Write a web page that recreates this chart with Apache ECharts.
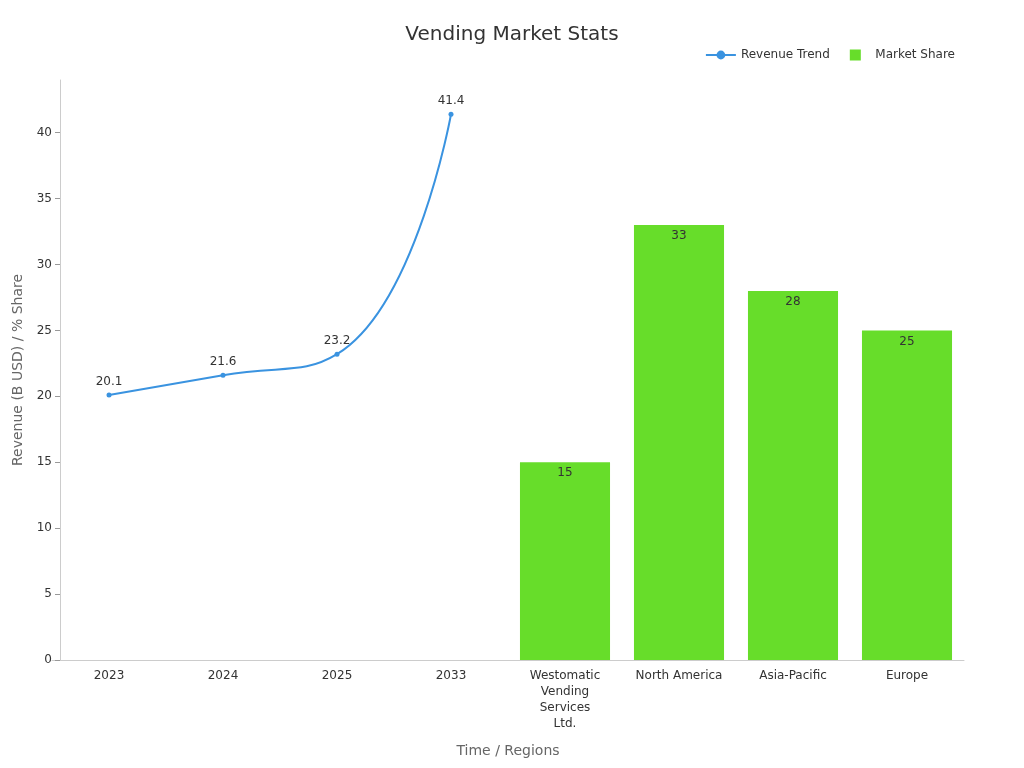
<!DOCTYPE html>
<html><head><meta charset="utf-8">
<script src="https://cdn.jsdelivr.net/npm/echarts@6/dist/echarts.min.js"></script>
<style>html,body{margin:0;padding:0}#c{width:1024px;height:768px}</style>
</head><body><div id="c"></div>
<script>
const categories = ["2023","2024","2025","2033","Westomatic\nVending\nServices\nLtd.","North America","Asia-Pacific","Europe"];
const revenueTrend = [20.1, 21.6, 23.2, 41.4, null, null, null, null];
const marketShare = [null, null, null, null, 15, 33, 28, 25];
const chart = echarts.init(document.getElementById('c'));
chart.setOption({
  textStyle:{fontFamily:"DejaVu Sans"},
  title:{text:"Vending Market Stats",left:"center",top:20,textStyle:{fontSize:20,fontWeight:"normal",color:"#333"}},
  legend:{top:44,right:64,itemGap:20,itemWidth:30,itemHeight:11,symbolKeepAspect:true,textStyle:{fontSize:12,color:"#333"},
    data:[{name:"Revenue Trend"},{name:"Market Share",icon:"path://M0,0L10,0L10,10L0,10Z"}]},
  grid:{left:52,right:60,top:80,bottom:108},
  xAxis:{type:"category",data:categories,name:"Time / Regions",nameLocation:"middle",nameGap:84,
    nameTextStyle:{fontSize:14,color:"#666"},
    axisLine:{lineStyle:{color:"#ccc"}},axisTick:{show:false},
    axisLabel:{color:"#333",fontSize:12,interval:0,lineHeight:16}},
  yAxis:{type:"value",min:0,max:44,interval:5,offset:-8,name:"Revenue (B USD) / % Share",nameLocation:"middle",nameGap:32,
    nameTextStyle:{fontSize:14,color:"#666"},
    axisLine:{show:true,lineStyle:{color:"#ccc"}},axisTick:{show:true,lineStyle:{color:"#999"}},
    splitLine:{show:false},axisLabel:{color:"#333",fontSize:12,showMaxLabel:false}},
  series:[
    {name:"Revenue Trend",type:"line",data:revenueTrend,smooth:true,symbol:"circle",symbolSize:5,
      itemStyle:{color:"#3a93e0"},lineStyle:{width:2,color:"#3a93e0"},
      label:{show:true,position:"top",color:"#333",fontSize:12}},
    {name:"Market Share",type:"bar",data:marketShare,barWidth:"79%",barGap:"-100%",
      itemStyle:{color:"#67dd2a"},
      label:{show:true,position:"insideTop",color:"#333",fontSize:12}}
  ]
});
</script></body></html>
